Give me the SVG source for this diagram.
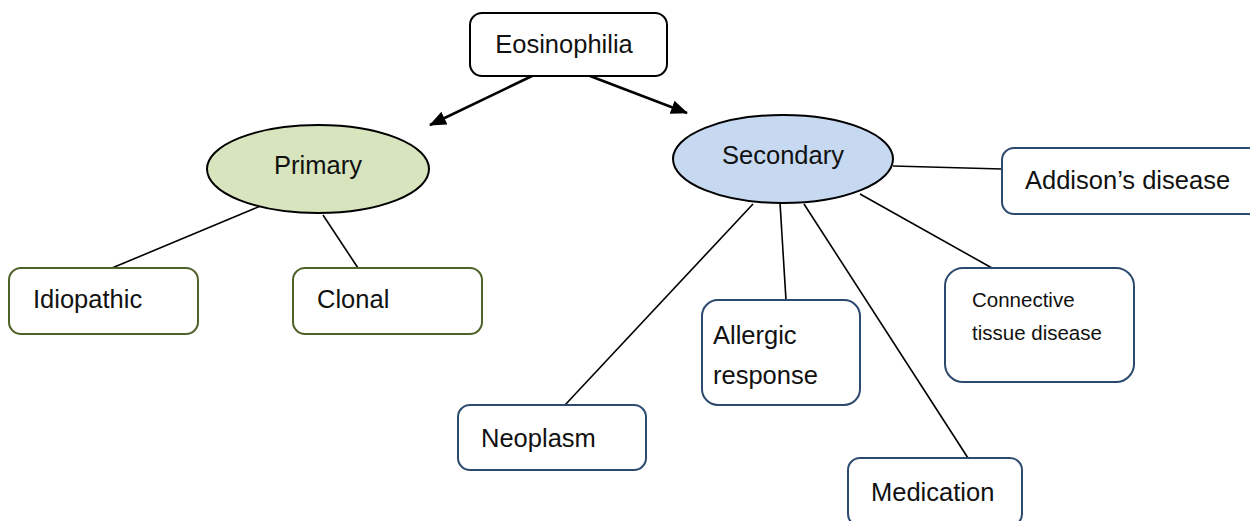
<svg xmlns="http://www.w3.org/2000/svg" width="1250" height="521" viewBox="0 0 1250 521">
<defs>
<style>
text{font-family:"Liberation Sans",Arial,sans-serif;font-size:25.5px;fill:#111}
.sm{font-size:20.5px}
.box{fill:#fff;stroke-width:2}
.blk{stroke:#000}
.grn{stroke:#4f6228}
.blu{stroke:#2c4a6e}
.ell{stroke:#000;stroke-width:2}
.ln{stroke:#000;stroke-width:1.6;fill:none}
.ar{stroke:#000;stroke-width:2.6;fill:none}
</style>
<marker id="ah" markerUnits="userSpaceOnUse" markerWidth="18" markerHeight="14" refX="16" refY="7" orient="auto">
<path d="M0,0 L17,7 L0,14 Z" fill="#000"/>
</marker>
</defs>
<g id="connectors">
<line class="ar" x1="532" y1="76" x2="430" y2="125" marker-end="url(#ah)"/>
<line class="ar" x1="590" y1="76" x2="687" y2="113" marker-end="url(#ah)"/>
<line class="ln" x1="263" y1="205" x2="112" y2="268"/>
<line class="ln" x1="323" y1="215" x2="358" y2="268"/>
<line class="ln" x1="893" y1="166" x2="1002" y2="169"/>
<line class="ln" x1="860" y1="194" x2="992" y2="268"/>
<line class="ln" x1="780" y1="203" x2="786" y2="300"/>
<line class="ln" x1="804" y1="204" x2="968" y2="458"/>
<line class="ln" x1="753" y1="204" x2="565" y2="405"/>
</g>
<g id="eosinophilia">
<rect class="box blk" x="470" y="13" width="197" height="63" rx="12"/>
<text x="564" y="53" text-anchor="middle">Eosinophilia</text>
</g>
<g id="primary">
<ellipse class="ell" cx="318" cy="169" rx="111" ry="44" fill="#d7e4bd"/>
<text x="318" y="174" text-anchor="middle">Primary</text>
</g>
<g id="secondary">
<ellipse class="ell" cx="783" cy="159" rx="110" ry="44" fill="#c6d9f1"/>
<text x="783" y="164" text-anchor="middle">Secondary</text>
</g>
<g id="idiopathic">
<rect class="box grn" x="9" y="268" width="189" height="66" rx="12"/>
<text x="33" y="308">Idiopathic</text>
</g>
<g id="clonal">
<rect class="box grn" x="293" y="268" width="189" height="66" rx="12"/>
<text x="317" y="308">Clonal</text>
</g>
<g id="addisons">
<rect class="box blu" x="1002" y="148" width="270" height="66" rx="12"/>
<text x="1025" y="189">Addison’s disease</text>
</g>
<g id="connective">
<rect class="box blu" x="945" y="268" width="189" height="114" rx="18"/>
<text class="sm" x="972" y="307">Connective</text>
<text class="sm" x="972" y="340">tissue disease</text>
</g>
<g id="allergic">
<rect class="box blu" x="702" y="300" width="158" height="105" rx="16"/>
<text x="713" y="344">Allergic</text>
<text x="713" y="384">response</text>
</g>
<g id="neoplasm">
<rect class="box blu" x="458" y="405" width="188" height="65" rx="12"/>
<text x="481" y="447">Neoplasm</text>
</g>
<g id="medication">
<rect class="box blu" x="848" y="458" width="174" height="68" rx="12"/>
<text x="871" y="501">Medication</text>
</g>
</svg>
